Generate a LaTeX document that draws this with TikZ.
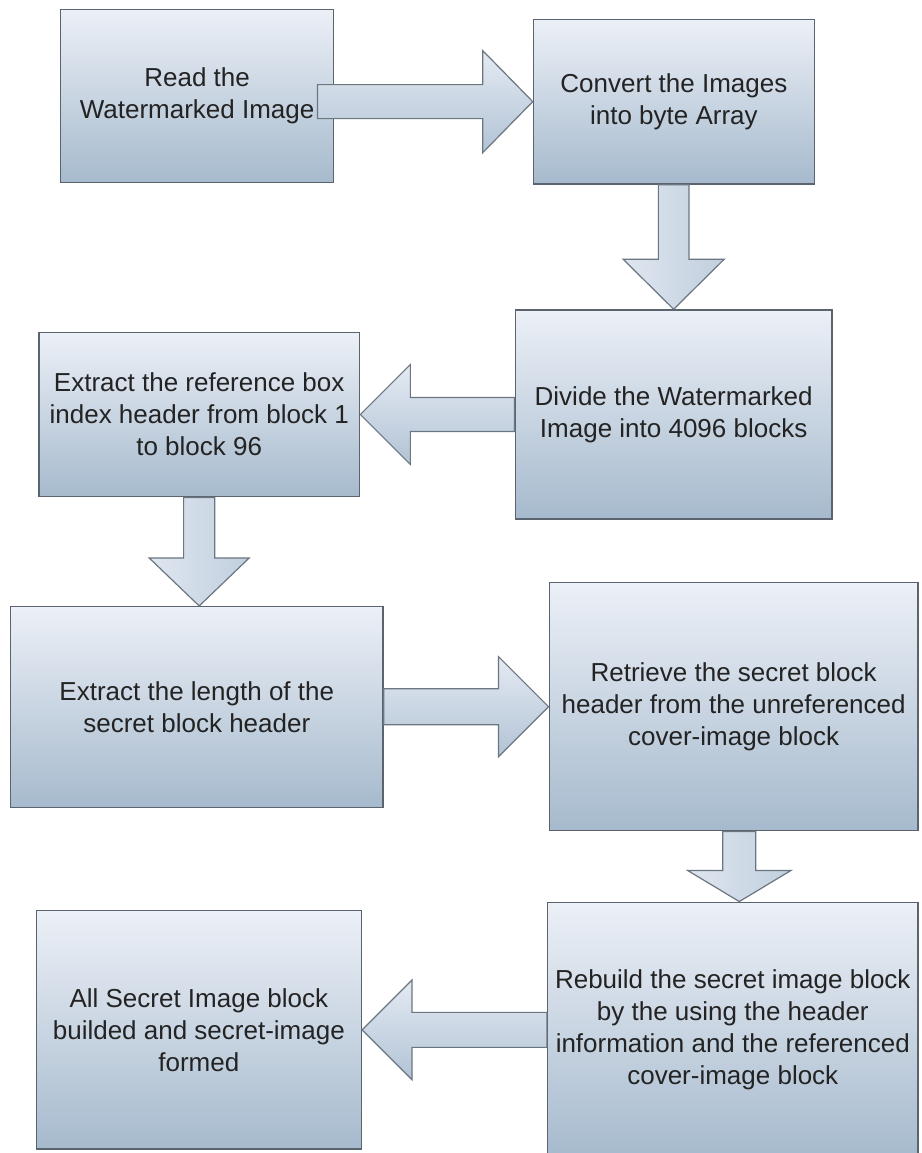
\documentclass[tikz,border=0pt]{standalone}
\usepackage{fontspec}
\setmainfont{Liberation Sans}
\usetikzlibrary{calc}

\definecolor{boxtop}{HTML}{ECF0F7}
\definecolor{boxbot}{HTML}{A6BACD}
\definecolor{boxline}{HTML}{5A636E}
\definecolor{arrtop}{HTML}{E4EAF3}
\definecolor{arrbot}{HTML}{B2C3D5}
\definecolor{arrline}{HTML}{6C7681}
\definecolor{txt}{HTML}{232323}

\tikzset{
  stepbox/.style={draw=boxline, line width=1.5pt, top color=boxtop, bottom color=boxbot,
    rectangle, inner sep=0pt, align=center, text=txt,
    font=\fontsize{26}{32}\selectfont},
  harrow/.style={draw=arrline, line width=1.2pt, top color=arrtop, bottom color=arrbot},
  varrow/.style={draw=arrline, line width=1.2pt, left color=arrtop!90!arrbot, right color=arrbot!70!arrtop},
}

% block arrow running left/right: start, tip, shaft half-width, head half-width, head length, style
\newcommand\hblockarrow[6]{%
  \path[#6] let \p1=(#1), \p2=(#2), \n1={sign(\x2-\x1)}, \n2={\x2-(\n1)*#5} in
    (\x1,{\y2+#3pt}) -- (\n2,{\y2+#3pt}) -- (\n2,{\y2+#4pt}) -- (\x2,\y2)
    -- (\n2,{\y2-#4pt}) -- (\n2,{\y2-#3pt}) -- (\x1,{\y2-#3pt}) -- cycle;}
% block arrow running up/down
\newcommand\vblockarrow[6]{%
  \path[#6] let \p1=(#1), \p2=(#2), \n1={sign(\y2-\y1)}, \n2={\y2-(\n1)*#5} in
    ({\x2+#3pt},\y1) -- ({\x2+#3pt},\n2) -- ({\x2+#4pt},\n2) -- (\x2,\y2)
    -- ({\x2-#4pt},\n2) -- ({\x2-#3pt},\n2) -- ({\x2-#3pt},\y1) -- cycle;}

\begin{document}
\begin{tikzpicture}[x=1pt, y=-1pt]
  \useasboundingbox (0,0) rectangle (921,1153);
  \fill[white] (0,0) rectangle (921,1153);
  \clip (0,0) rectangle (921,1153);

  \node[stepbox, minimum width=273.2pt, minimum height=173pt] (A) at (197.1,95.8)
    {Read the\\Watermarked Image};
  \node[stepbox, minimum width=280.8pt, minimum height=164.7pt] (B) at (673.9,101.65)
    {Convert the Images\\into byte Array};
  \node[stepbox, minimum width=316.7pt, minimum height=209pt] (C) at (673.65,414.5)
    {Divide the Watermarked\\Image into 4096 blocks};
  \node[stepbox, minimum width=320.8pt, minimum height=164.4pt] (D) at (199.2,414.5)
    {Extract the reference box\\index header from block 1\\to block 96};
  \node[stepbox, minimum width=372.4pt, minimum height=201pt] (E) at (196.8,707.2)
    {Extract the length of the\\secret block header};
  \node[stepbox, minimum width=368.7pt, minimum height=248pt] (F) at (733.65,706.7)
    {Retrieve the secret block\\header from the unreferenced\\cover-image block};
  \node[stepbox, minimum width=370.4pt, minimum height=254.7pt] (G) at (732.8,1029.65)
    {Rebuild the secret image block\\by the using the header\\information and the referenced\\cover-image block};
  \node[stepbox, minimum width=324.9pt, minimum height=238.3pt] (H) at (198.85,1029.85)
    {All Secret Image block\\builded and secret-image\\formed};

  % flow arrows
  \hblockarrow{$(A.east)+(-17,0)$}{B.west}{17}{51}{50}{harrow}
  \vblockarrow{B.south}{C.north}{15.3}{50.5}{50}{varrow}
  \hblockarrow{C.west}{D.east}{17}{50}{50}{harrow}
  \vblockarrow{D.south}{D.south |- E.north}{15.6}{50}{48}{varrow}
  \hblockarrow{E.east}{F.west}{18}{50}{50}{harrow}
  \vblockarrow{$(F.south)+(6.5,0)$}{$(G.north)+(6.5,0)$}{16.5}{51.5}{31}{varrow}
  \hblockarrow{G.west}{H.east}{17.5}{50}{50}{harrow}
\end{tikzpicture}
\end{document}
